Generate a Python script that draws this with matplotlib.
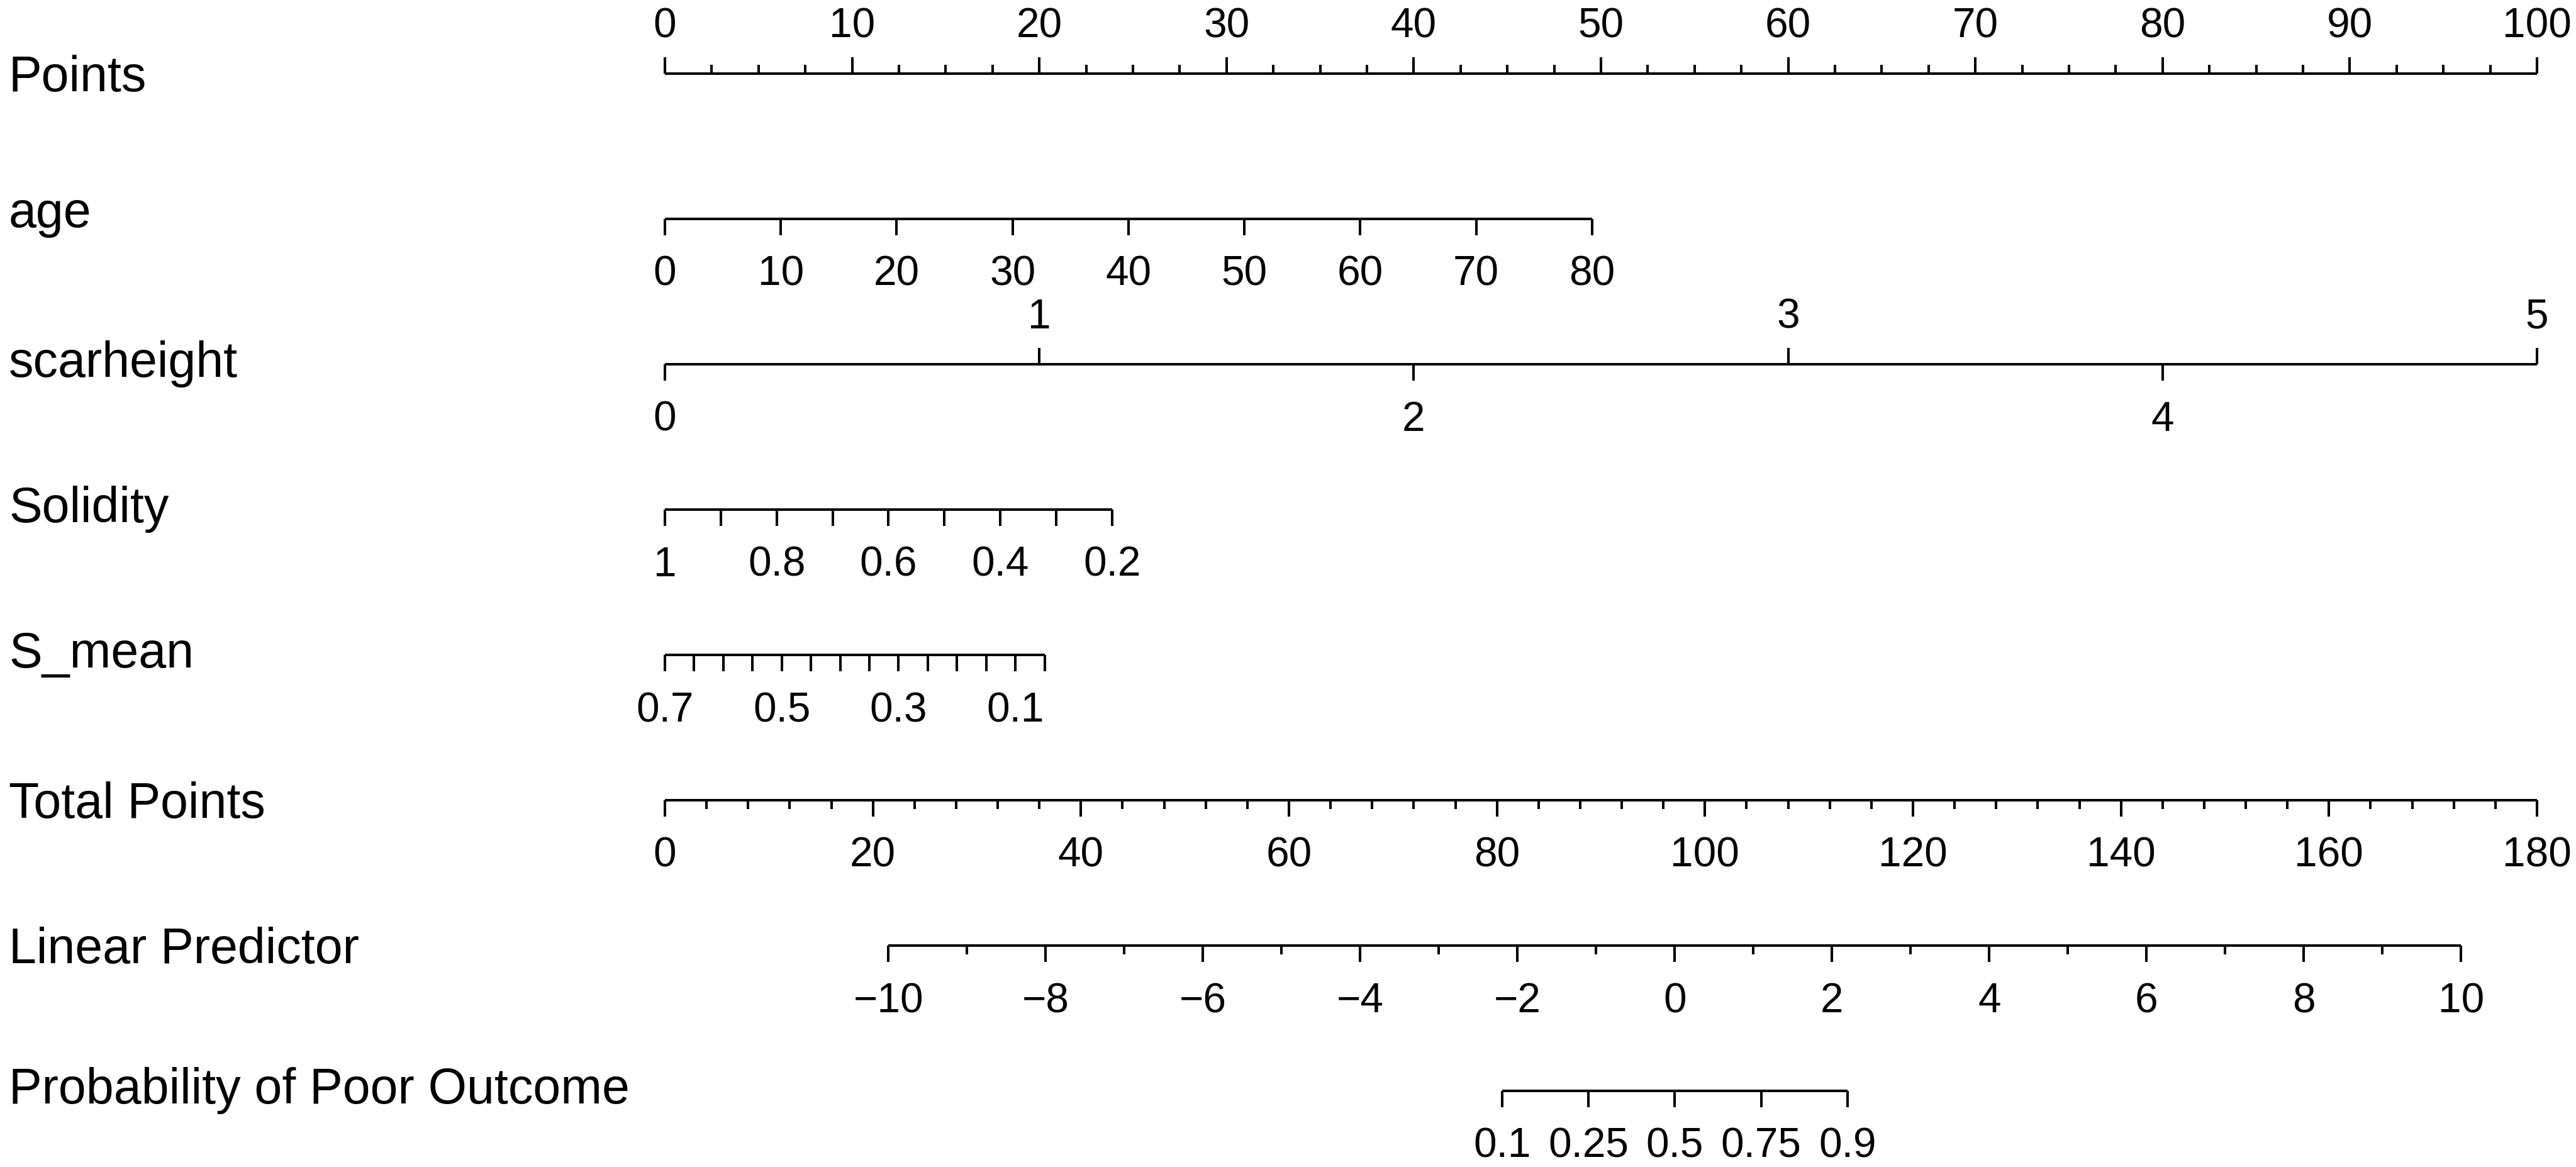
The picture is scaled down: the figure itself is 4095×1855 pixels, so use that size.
import numpy as np
import matplotlib
matplotlib.use('Agg')
import matplotlib.pyplot as plt
from matplotlib.transforms import offset_copy, blended_transform_factory
from matplotlib.textpath import TextPath
from matplotlib.font_manager import FontProperties

# nomogram rows
row_names = ['Points', 'age', 'scarheight', 'Solidity', 'S_mean',
             'Total Points', 'Linear Predictor', 'Probability of Poor Outcome']

# Points scale
points_major = [0, 10, 20, 30, 40, 50, 60, 70, 80, 90, 100]
points_minor = np.arange(0, 100.1, 2.5)

# age: points per year
age_ticks = [0, 10, 20, 30, 40, 50, 60, 70, 80]
age_pts = 0.619

# scarheight: points per unit, labels alternate above / below
scar_ticks = [0, 1, 2, 3, 4, 5]
scar_above = [1, 3, 5]
scar_pts = 20.0

# Solidity: points per unit decrease from 1
solidity_ticks = [1, 0.9, 0.8, 0.7, 0.6, 0.5, 0.4, 0.3, 0.2]
solidity_labels = [1, 0.8, 0.6, 0.4, 0.2]
solidity_ref = 1.0
solidity_pts = 29.85

# S_mean: points per unit decrease from 0.7
smean_ticks = [0.7, 0.65, 0.6, 0.55, 0.5, 0.45, 0.4, 0.35, 0.3, 0.25,
               0.2, 0.15, 0.1, 0.05]
smean_labels = [0.7, 0.5, 0.3, 0.1]
smean_ref = 0.7
smean_pts = 31.2

# Total points
total_major = [0, 20, 40, 60, 80, 100, 120, 140, 160, 180]
total_minor = np.arange(0, 181, 4)
total_max = 180

# Linear predictor -> total points
lp_major = [-10, -8, -6, -4, -2, 0, 2, 4, 6, 8, 10]
lp_minor = np.arange(-10, 11, 1)
lp_at_zero = 97.1
lp_slope = 7.56

# probability ticks
prob_ticks = [0.1, 0.25, 0.5, 0.75, 0.9]
prob_labels = ['0.1', '0.25', '0.5', '0.75', '0.9']

W, H, DPI = 4095, 1855, 100
FONT = 'Liberation Sans'
plt.rcParams['font.family'] = [FONT, 'DejaVu Sans']
LW = 2.9
MAJ = 18.7
MIN = 10.1
TICK_FS = 47.3
NAME_FS = 56.8

fig = plt.figure(figsize=(W / DPI, H / DPI), dpi=DPI)
ax = fig.add_axes([1057 / W, 1 - 1734 / H, 2976 / W, (1734 - 117) / H])
ax.set_xlim(0, 100)
ax.set_ylim(len(row_names) - 1, 0)
ax.axis('off')

below = offset_copy(ax.transData, fig=fig, x=0, y=-58, units='dots')
above = offset_copy(ax.transData, fig=fig, x=0, y=57, units='dots')


def fmt(v):
    s = f'{v:g}'
    return s.replace('-', '\u2212')


def ticks(row, xs, up=False, length=MAJ):
    ax.plot(xs, [row] * len(xs), ls='none', marker=2 if up else 3,
            ms=length, mew=LW, color='black', clip_on=False)


def labels(row, xs, texts, up=False):
    for x, t in zip(xs, texts):
        if up:
            ax.text(x, row, t, transform=above, ha='center', va='baseline',
                    fontsize=TICK_FS, clip_on=False)
        else:
            ax.text(x, row, t, transform=below, ha='center', va='top',
                    fontsize=TICK_FS, clip_on=False)


def line(row, xs):
    ax.plot([min(xs), max(xs)], [row, row], color='black', lw=LW,
            solid_capstyle='butt', clip_on=False)


# row 0: Points
line(0, points_major)
ticks(0, points_minor, up=True, length=MIN)
ticks(0, points_major, up=True)
labels(0, points_major, [fmt(v) for v in points_major], up=True)

# row 1: age
x = [a * age_pts for a in age_ticks]
line(1, x)
ticks(1, x)
labels(1, x, [fmt(v) for v in age_ticks])

# row 2: scarheight
x = [s * scar_pts for s in scar_ticks]
line(2, x)
for s, xi in zip(scar_ticks, x):
    up = s in scar_above
    ticks(2, [xi], up=up)
    labels(2, [xi], [fmt(s)], up=up)

# row 3: Solidity
x = [(solidity_ref - s) * solidity_pts for s in solidity_ticks]
line(3, x)
ticks(3, x)
labels(3, [(solidity_ref - s) * solidity_pts for s in solidity_labels],
       [fmt(v) for v in solidity_labels])

# row 4: S_mean
x = [(smean_ref - s) * smean_pts for s in smean_ticks]
line(4, x)
ticks(4, x)
labels(4, [(smean_ref - s) * smean_pts for s in smean_labels],
       [fmt(v) for v in smean_labels])

# row 5: Total Points
scale = 100 / total_max
line(5, [v * scale for v in total_major])
ticks(5, [v * scale for v in total_minor], length=MIN)
ticks(5, [v * scale for v in total_major])
labels(5, [v * scale for v in total_major], [fmt(v) for v in total_major])

# row 6: Linear Predictor
lp_x = lambda v: (lp_at_zero + lp_slope * np.asarray(v, dtype=float)) * scale
line(6, lp_x(lp_major))
ticks(6, lp_x(lp_minor), length=MIN)
ticks(6, lp_x(lp_major))
labels(6, lp_x(lp_major), [fmt(v) for v in lp_major])

# row 7: Probability
p = np.array(prob_ticks)
px = lp_x(np.log(p / (1 - p)))
line(7, px)
ticks(7, px)
labels(7, px, prob_labels)

# row names, centred on their ink box like R does
fp = FontProperties(family=FONT)
name_tr = blended_transform_factory(fig.transFigure, ax.transData)
for i, name in enumerate(row_names):
    ext = TextPath((0, 0), name, size=NAME_FS, prop=fp).get_extents()
    mid = (ext.y0 + ext.y1) / 2 * DPI / 72
    tr = offset_copy(name_tr, fig=fig, x=0, y=-mid, units='dots')
    ax.text(14 / W, i, name, transform=tr, ha='left', va='baseline',
            fontsize=NAME_FS, clip_on=False)

fig.savefig('out.png', dpi=DPI)
